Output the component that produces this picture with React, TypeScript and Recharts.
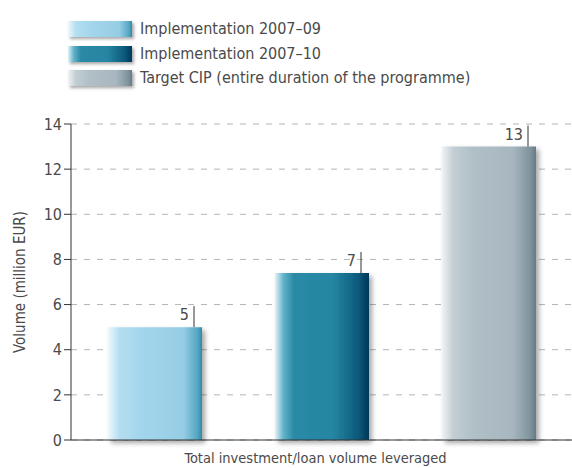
import React from 'react'
import { Bar, BarChart, CartesianGrid, Cell, LabelList, XAxis, YAxis, Label } from 'recharts'

const categories = [
  'Implementation 2007–09',
  'Implementation 2007–10',
  'Target CIP (entire duration of the programme)',
]
const volumes = [5, 7.4, 13]
const valueLabels = ['5', '7', '13']
const yTicks = [0, 2, 4, 6, 8, 10, 12, 14]

const FONT = '"Liberation Sans Narrow", "DejaVu Sans Condensed", "Roboto", sans-serif'
const TEXT = '#4a4a4a'

const GRADIENTS = [
  {
    id: 'grad1',
    css: 'linear-gradient(to right, #eef8fc 0%, #b5def0 12%, #a3d6ec 35%, #96cde5 80%, #56a7c3 95%, #2f8aa8 100%)',
    stops: [['0%', '#eef8fc'], ['12%', '#b5def0'], ['35%', '#a3d6ec'], ['80%', '#96cde5'], ['95%', '#56a7c3'], ['100%', '#2f8aa8']],
  },
  {
    id: 'grad2',
    css: 'linear-gradient(to right, #e2f2f8 0%, #62b2ca 9%, #2a8aa6 20%, #2585a2 62%, #0c5a7c 88%, #00385a 100%)',
    stops: [['0%', '#e2f2f8'], ['9%', '#62b2ca'], ['20%', '#2a8aa6'], ['62%', '#2585a2'], ['88%', '#0c5a7c'], ['100%', '#00385a']],
  },
  {
    id: 'grad3',
    css: 'linear-gradient(to right, #f0f3f4 0%, #c2ced4 12%, #b1c0c7 32%, #a8b7bf 75%, #7f939d 94%, #667b86 100%)',
    stops: [['0%', '#f0f3f4'], ['12%', '#c2ced4'], ['32%', '#b1c0c7'], ['75%', '#a8b7bf'], ['94%', '#7f939d'], ['100%', '#667b86']],
  },
]

const data = categories.map((name, i) => ({ name, value: volumes[i], label: valueLabels[i] }))

function ValueMarker(props: any) {
  const { x, y, width, index } = props
  const lx = x + width - 8
  return (
    <g>
      <line x1={lx} y1={y} x2={lx} y2={y - 21} stroke="#333" strokeWidth={1} />
      <text x={lx - 5} y={y - 7} textAnchor="end" fontSize={16} fill={TEXT} fontFamily={FONT}>
        {valueLabels[index]}
      </text>
    </g>
  )
}

function YTitle(props: any) {
  const { viewBox } = props
  const cx = 20
  const cy = viewBox.y + viewBox.height / 2
  return (
    <text x={cx} y={cy} transform={`rotate(-90 ${cx} ${cy})`} textAnchor="middle" dominantBaseline="central" fontSize={15} fill={TEXT} fontFamily={FONT}>
      Volume (million EUR)
    </text>
  )
}

function XTitle(props: any) {
  const { viewBox } = props
  const cx = viewBox.x + viewBox.width / 2 - 6
  return (
    <text x={cx} y={463} textAnchor="middle" fontSize={14.5} fill={TEXT} fontFamily={FONT}>
      Total investment/loan volume leveraged
    </text>
  )
}

export default function App() {
  return (
    <div style={{ position: 'absolute', left: 0, top: 0, width: 572, height: 468, background: '#fff', fontFamily: FONT }}>
      <div style={{ position: 'absolute', left: 68, top: 17 }}>
        {categories.map((c, i) => (
          <div key={c} style={{ display: 'flex', alignItems: 'center', height: 24.5 }}>
            <div
              style={{
                width: 64,
                height: 16,
                background: GRADIENTS[i].css,
                boxShadow: '2px 2px 3px rgba(0,0,0,0.35)',
              }}
            />
            <span style={{ marginLeft: 8, fontSize: 16, color: TEXT, lineHeight: '16px' }}>{c}</span>
          </div>
        ))}
      </div>
      <BarChart width={572} height={468} data={data} margin={{ top: 124, right: 0, bottom: 0, left: 0 }}>
        <defs>
          {GRADIENTS.map(g => (
            <linearGradient key={g.id} id={g.id} x1="0" y1="0" x2="1" y2="0">
              {g.stops.map(([o, c]) => (
                <stop key={o} offset={o} stopColor={c} />
              ))}
            </linearGradient>
          ))}
          <filter id="barShadow" x="-20%" y="-20%" width="140%" height="140%">
            <feDropShadow dx="3" dy="3" stdDeviation="2.5" floodColor="#000" floodOpacity="0.35" />
          </filter>
        </defs>
        <CartesianGrid vertical={false} stroke="#b4b4b4" strokeDasharray="6 7" />
        <XAxis dataKey="name" tick={false} tickLine={false} axisLine={{ stroke: '#333' }} height={28}>
          <Label content={<XTitle />} />
        </XAxis>
        <YAxis
          domain={[0, 14]}
          ticks={yTicks}
          width={71}
          tickSize={7}
          axisLine={{ stroke: '#333' }}
          tickLine={{ stroke: '#333' }}
          tick={{ fontSize: 16, fill: TEXT, fontFamily: FONT }}
        >
          <Label content={<YTitle />} />
        </YAxis>
        <Bar dataKey="value" barSize={94} isAnimationActive={false} filter="url(#barShadow)">
          {data.map((d, i) => (
            <Cell key={d.name} fill={`url(#${GRADIENTS[i].id})`} />
          ))}
          <LabelList dataKey="value" content={<ValueMarker />} />
        </Bar>
      </BarChart>
    </div>
  )
}
